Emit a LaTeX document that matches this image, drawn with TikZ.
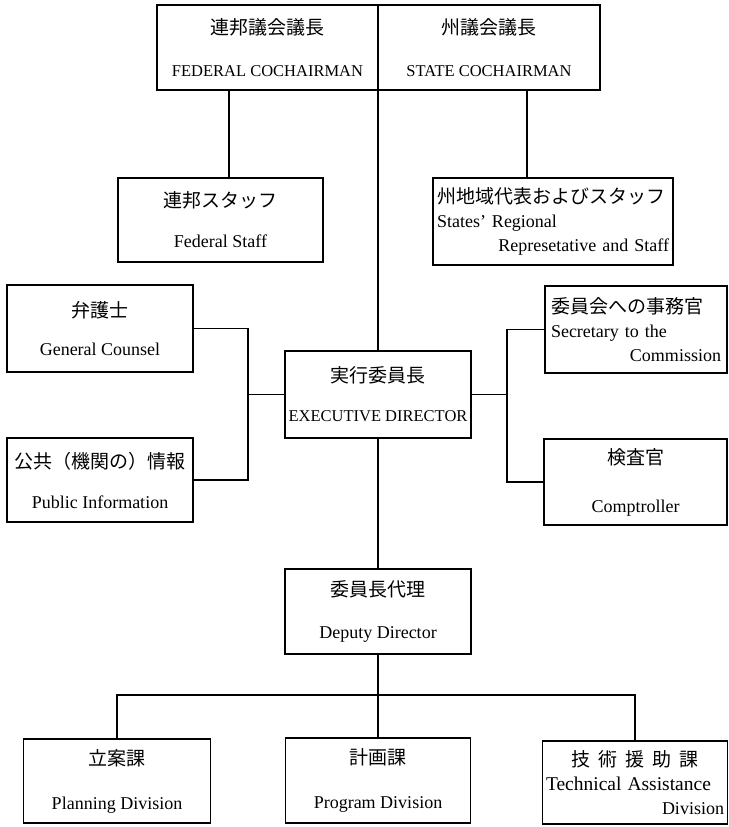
\documentclass[tikz,border=0pt]{standalone}
\usepackage{fontspec}
\setmainfont{Liberation Serif}
\newfontfamily\jpfont{Noto Sans CJK JP}
\newcommand\J[1]{{\jpfont\fontsize{19}{22}\selectfont #1}}
\newcommand\Caps[1]{{\fontsize{16.5}{20}\selectfont #1}}
\begin{document}
\begin{tikzpicture}[x=1pt,y=-1pt,
  box/.style={draw, line width=1.3pt, inner sep=0pt, align=center,
    font=\fontsize{18}{22}\selectfont},
  lbox/.style={draw, line width=1.3pt, inner sep=0pt, align=left,
    font=\fontsize{18}{24}\selectfont},
  conn/.style={line width=1.3pt}]
\useasboundingbox (0,0) rectangle (728,827);

% top row
\node[box, minimum width=221pt, minimum height=85pt] (fed) at (267.5,47.5)
  {\J{連邦議会議長}\\[20pt]\Caps{FEDERAL COCHAIRMAN}};
\node[box, minimum width=222pt, minimum height=85pt] (state) at (489,47.5)
  {\J{州議会議長}\\[20pt]\Caps{STATE COCHAIRMAN}};

% staff row
\node[box, minimum width=205pt, minimum height=84pt] (fstaff) at (220.5,220)
  {\J{連邦スタッフ}\\[18pt]Federal Staff};
\node[lbox, minimum width=240pt, minimum height=87pt, text width=232pt] (sstaff) at (553,221.5)
  {\J{州地域代表およびスタッフ}\\States' Regional\\\hspace*{\fill}Represetative and Staff\hspace*{6pt}};

% middle row
\node[box, minimum width=186pt, minimum height=87pt] (gc) at (100,328.5)
  {\J{弁護士}\\[16pt]General Counsel};
\node[box, minimum width=186pt, minimum height=84pt] (pi) at (100,480)
  {\J{公共（機関の）情報}\\[18pt]Public Information};
\node[box, minimum width=186pt, minimum height=87pt] (exec) at (378,394.5)
  {\J{実行委員長}\\[17pt]\Caps{EXECUTIVE DIRECTOR}};
\node[lbox, minimum width=182pt, minimum height=87pt, text width=170pt] (sec) at (636,329.5)
  {\J{委員会への事務官}\\Secretary to the\\\hspace*{\fill}Commission};
\node[box, minimum width=183pt, minimum height=86pt] (comp) at (635.5,482)
  {\J{検査官}\\[26pt]Comptroller};

% deputy
\node[box, minimum width=186pt, minimum height=85pt] (dep) at (378,611.5)
  {\J{委員長代理}\\[20pt]Deputy Director};

% divisions
\node[box, minimum width=187pt, minimum height=84pt] (plan) at (117,781)
  {\J{立案課}\\[22pt]Planning Division};
\node[box, minimum width=185pt, minimum height=85pt] (prog) at (378,780.5)
  {\J{計画課}\\[22pt]Program Division};
\node[lbox, minimum width=185pt, minimum height=83pt, text width=178pt] (ta) at (635,782.5)
  {\makebox[\linewidth][c]{\J{技\hspace{8pt}術\hspace{8pt}援\hspace{8pt}助\hspace{8pt}課}}\\{\fontsize{19.5}{24}\selectfont Technical Assistance}\\\hspace*{\fill}Division};

% connectors
\coordinate (jf) at (229,0);
\coordinate (js) at (527,0);
\coordinate (lb) at (248,0);
\coordinate (rb) at (507,0);
\coordinate (bb) at (0,695);

\draw[conn] (fed.south -| jf) -- (fstaff.north -| jf);
\draw[conn] (state.south -| js) -- (sstaff.north -| js);
\draw[conn] (exec.north |- fed.south) -- (exec.north);

\draw[conn] (gc.east) -| (lb |- pi.east) -- (pi.east);
\draw[conn] (exec.west) -- (exec.west -| lb);
\draw[conn] (sec.west) -| (rb |- comp.west) -- (comp.west);
\draw[conn] (exec.east) -- (exec.east -| rb);

\draw[conn] (exec.south) -- (dep.north);
\draw[conn] (dep.south) -- (dep.south |- bb);
\draw[conn] (plan.north) |- (ta.north |- bb) -- (ta.north);
\draw[conn] (prog.north) -- (prog.north |- bb);
\end{tikzpicture}
\end{document}
